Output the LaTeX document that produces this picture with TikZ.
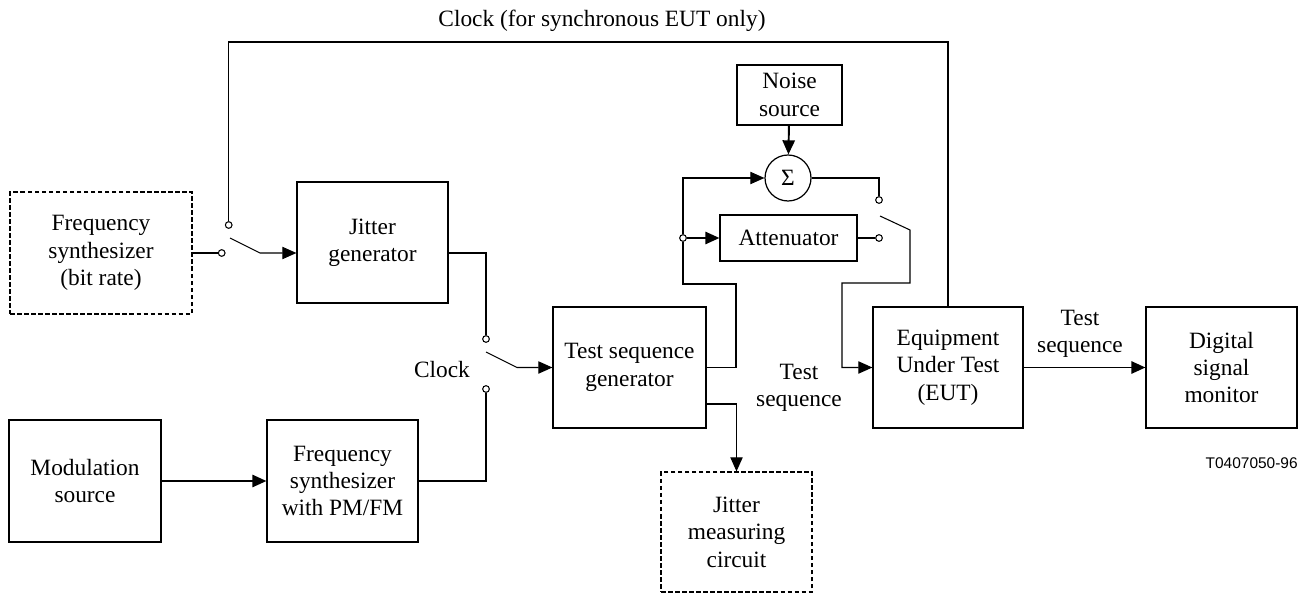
\documentclass[tikz,border=0pt]{standalone}
\usepackage{fontspec}
\setmainfont{Liberation Serif}
\newfontfamily\codefont{Liberation Sans}
\usetikzlibrary{arrows.meta}
\tikzset{
  block/.style={draw,line width=0.7pt,align=center,inner sep=0pt,
    font=\fontsize{13.3}{15.6}\selectfont},
  dblock/.style={block,dash pattern=on 2.6pt off 1.4pt},
  contact/.style={circle,draw,fill=white,line width=0.6pt,inner sep=0pt,minimum size=3.8pt},
  wire/.style={line width=0.6pt},
  bus/.style={line width=1.1pt},
  arr/.style={-{Triangle[length=8pt,width=7pt]}},
  lbl/.style={align=center,font=\fontsize{13.3}{15.6}\selectfont},
}
\begin{document}
\begin{tikzpicture}[x=0.02cm,y=-0.02cm]
    \useasboundingbox (0,0) rectangle (1310,594) ;
    \node[dblock,minimum width=3.64cm,minimum height=2.44cm] (fsbit) at (101,253) {Frequency\\synthesizer\\(bit rate)} ;
    \node[block,minimum width=3.02cm,minimum height=2.42cm] (jit) at (372.5,242.5) {Jitter\\generator} ;
    \node[block,minimum width=3.04cm,minimum height=2.44cm] (mod) at (85,481) {Modulation\\source} ;
    \node[block,minimum width=3.02cm,minimum height=2.44cm] (fspm) at (342.5,481) {Frequency\\synthesizer\\with PM/FM} ;
    \node[block,minimum width=3.06cm,minimum height=2.42cm] (tsg) at (629.5,367.5) {Test sequence\\generator} ;
    \node[dblock,minimum width=3.02cm,minimum height=2.4cm] (jmc) at (736.5,532) {Jitter\\measuring\\circuit} ;
    \node[block,minimum width=2.1cm,minimum height=1.2cm] (noise) at (789.5,95) {Noise\\source} ;
    \node[block,circle,minimum size=0.92cm] (sum) at (788,178) {Σ} ;
    \node[block,minimum width=2.74cm,minimum height=0.92cm] (att) at (788.5,238) {Attenuator} ;
    \node[block,minimum width=3cm,minimum height=2.42cm] (eut) at (948,367.5) {Equipment\\Under Test\\(EUT)} ;
    \node[block,minimum width=3.02cm,minimum height=2.42cm] (dsm) at (1221.5,367.5) {Digital\\signal\\monitor} ;
    \node[contact] (s1in) at (221.7,253) {} ;
    \node[contact] (s1up) at (228.7,225) {} ;
    \node[contact] (s2up) at (486,339) {} ;
    \node[contact] (s2dn) at (486,389) {} ;
    \node[contact] (tap) at (683,238) {} ;
    \node[contact] (s3up) at (879,200) {} ;
    \node[contact] (s3dn) at (879,238) {} ;
    \coordinate (b1) at (230,238) ;
    \coordinate (b2) at (486,352) ;
    \coordinate (b3) at (880,216) ;
    \coordinate (ctop) at (948,42) ;
    \draw[bus] (fsbit.east) -- (s1in) ;
    \draw[wire,arr] (b1) -- (260,253) -- (jit.west |- s1in) ;
    \draw[wire] (s1up) |- (ctop) -- (eut.north) ;
    \draw[wire] (jit.east |- s1in) -| (s2up) ;
    \draw[wire] (fspm.east) -| (s2dn) ;
    \draw[bus,arr] (mod) -- (fspm) ;
    \draw[wire,arr] (b2) -- (517,367.5) -- (tsg.west) ;
    \draw[wire] (tsg.east) -| (736,284) -| (tap) ;
    \draw[wire,arr] (tap) |- (sum.west) ;
    \draw[bus,arr] (tap) -- (att.west) ;
    \draw[bus,arr] (noise) -- (sum) ;
    \draw[wire] (sum.east) -| (s3up) ;
    \draw[bus] (att.east) -- (s3dn) ;
    \draw[wire,arr] (b3) -- (910,230) -- (910,283) -| (842,367.5) -- (eut.west) ;
    \draw[bus,arr] (eut) -- (dsm) ;
    \draw[wire,arr] (tsg.east |- 0,404) -| (jmc.north) ;
    \node[lbl] (ltop) at (602,21) {Clock (for synchronous EUT only)} ;
    \node[lbl] (lclk) at (442,370) {Clock} ;
    \node[lbl] (lseq) at (799,388) {Test\\sequence} ;
    \node[lbl] (lout) at (1080,334) {Test\\sequence} ;
    \node[anchor=east,inner sep=0pt,font=\codefont\fontsize{8.8}{10}\selectfont] (fig) at (1298,463) {T0407050-96} ;
  \end{tikzpicture}
\end{document}
